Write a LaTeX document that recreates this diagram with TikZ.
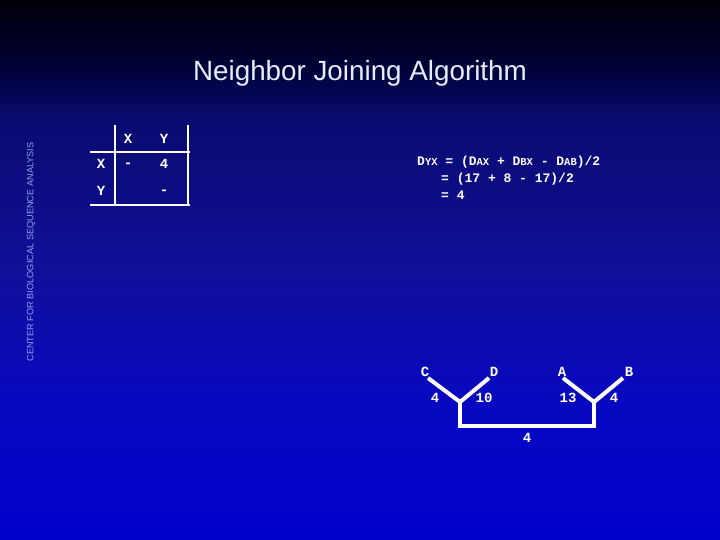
\documentclass[tikz,border=0pt]{standalone}
\usepackage{fontspec}
\setmainfont{Liberation Sans}
\newfontfamily\monob{Liberation Mono}
\definecolor{bgA}{RGB}{0,0,8}
\definecolor{bgB}{RGB}{0,0,48}
\definecolor{bgC}{RGB}{10,10,112}
\definecolor{bgD}{RGB}{16,16,154}
\definecolor{bgE}{RGB}{8,8,192}
\definecolor{bgF}{RGB}{0,0,204}
\definecolor{titlec}{RGB}{225,240,255}
\definecolor{sidec}{RGB}{140,160,240}
\pgfdeclareverticalshading{slidebg}{100bp}{color(0bp)=(bgF); color(25bp)=(bgF); color(38bp)=(bgE); color(50bp)=(bgD); color(64bp)=(bgC); color(69.5bp)=(bgB); color(75bp)=(bgA); color(100bp)=(bgA)}
\newcommand{\msub}[1]{{\fontsize{10.5}{11}\selectfont #1}}
\begin{document}
\begin{tikzpicture}[x=1pt,y=-1pt,
  mono/.style={text=white,font=\monob\bfseries\fontsize{13}{15}\selectfont,inner sep=0pt},
  tline/.style={white,line width=2pt},
  tree/.style={white,line width=4pt},
  lab/.style={text=white,font=\monob\bfseries\fontsize{14}{15}\selectfont,inner sep=0pt,anchor=base}]
\useasboundingbox (0,0) rectangle (720,540);
\shade[shading=slidebg] (0,0) rectangle (720,540);
% title
\node[text=titlec,font=\fontsize{27.8}{32}\selectfont,inner sep=0pt] (title) at (360,73) {Neighbor Joining Algorithm};
% side text
\node[text=sidec,font=\fontsize{9.2}{10}\selectfont,rotate=90,inner sep=0pt] (side) at (31,252) {CENTER FOR BIOLOGICAL SEQUENCE ANALYSIS};
% table
\coordinate (t1) at (115,125);
\coordinate (t2) at (115,205);
\coordinate (t3) at (188,125);
\coordinate (t4) at (188,205);
\coordinate (h1) at (90,152);
\coordinate (h2) at (190,152);
\coordinate (b1) at (90,205);
\coordinate (b2) at (190,205);
\draw[tline] (t1) -- (t2);
\draw[tline] (t3) -- (t4);
\draw[tline] (h1) -- (h2);
\draw[tline] (b1) -- (b2);
\node[lab] (hx) at (128,144) {X};
\node[lab] (hy) at (164,144) {Y};
\node[lab] (rx) at (101,169) {X};
\node[lab] (ry) at (101,196) {Y};
\node[lab] (c11) at (128,168) {-};
\node[lab] (c12) at (164,169) {4};
\node[lab] (c22) at (164,195) {-};
% formula
\node[mono,anchor=base west] (f1) at (417,166) {D\msub{YX} = (D\msub{AX} + D\msub{BX} - D\msub{AB})/2};
\node[mono,anchor=base west] (f2) at (441,183) {= (17 + 8 - 17)/2};
\node[mono,anchor=base west] (f3) at (441,200) {= 4};
% tree
\coordinate (C) at (428,378);
\coordinate (D) at (489,378);
\coordinate (A) at (563,378);
\coordinate (B) at (623,378);
\coordinate (j1) at (460,402);
\coordinate (j2) at (594,402);
\coordinate (k1) at (460,426);
\coordinate (k2) at (594,426);
\draw[tree] (C) -- (j1);
\draw[tree] (D) -- (j1);
\draw[tree] (A) -- (j2);
\draw[tree] (B) -- (j2);
\draw[tree,line join=miter] (j1) -- (k1) -- (k2) -- (j2);
\node[lab] (lC) at (425,376) {C};
\node[lab] (lD) at (494,376) {D};
\node[lab] (lA) at (562,376) {A};
\node[lab] (lB) at (629,376) {B};
\node[lab] (e1) at (435,402) {4};
\node[lab] (e2) at (484,402) {10};
\node[lab] (e3) at (568,402) {13};
\node[lab] (e4) at (614,402) {4};
\node[lab] (e5) at (527,442) {4};
\end{tikzpicture}
\end{document}
